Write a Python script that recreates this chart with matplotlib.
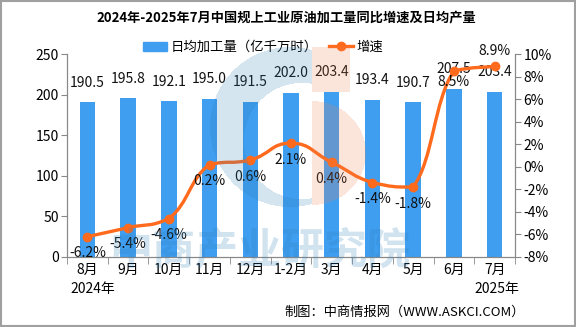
import matplotlib
matplotlib.use("Agg")
import matplotlib.pyplot as plt
import numpy as np
from matplotlib.path import Path
from matplotlib.patches import PathPatch, Rectangle
from matplotlib.lines import Line2D

plt.rcParams["font.family"] = ["Noto Sans CJK SC", "DejaVu Sans"]

# =========================
# DATA
# =========================
MONTHS = ["8月", "9月", "10月", "11月", "12月", "1-2月", "3月", "4月", "5月", "6月", "7月"]
DAILY_OUTPUT = [190.5, 195.8, 192.1, 195.0, 191.5, 202.0, 203.4, 193.4, 190.7, 207.5, 203.4]
GROWTH = [-6.2, -5.4, -4.6, 0.2, 0.6, 2.1, 0.4, -1.4, -1.8, 8.5, 8.9]

TITLE = "2024年-2025年7月中国规上工业原油加工量同比增速及日均产量"
BAR_LABEL = "日均加工量（亿千万时）"
LINE_LABEL = "增速"
SOURCE = "制图：中商情报网（WWW.ASKCI.COM）"

BAR_COLOR = "#3f9ef0"
LINE_COLOR = "#ff6a1c"
W, H = 576, 327

# =========================
# FIGURE / AXES
# =========================
fig = plt.figure(figsize=(W / 100, H / 100), dpi=100)
ax = fig.add_axes([67 / W, 1 - 257 / H, 448 / W, 203 / H])
ax2 = ax.twinx()

x = np.arange(len(MONTHS))
ax.bar(x, DAILY_OUTPUT, width=0.38, color=BAR_COLOR, zorder=2)
for xi, v in zip(x, DAILY_OUTPUT):
    ax.annotate(f"{v:.1f}", (xi, v), xytext=(0, 9), textcoords="offset points",
                ha="center", va="bottom", fontsize=10, color="#111111")

ax.set_xlim(-0.5, len(MONTHS) - 0.5)
ax.set_ylim(0, 250)
ax.set_yticks(range(0, 251, 50))
ax2.set_ylim(-8, 10)
ax2.set_yticks(range(-8, 11, 2))
ax2.set_yticklabels([f"{t}%" for t in range(-8, 11, 2)])

# smooth line through the growth points (bezier segments, controls kept inside each segment)
pts = np.column_stack([x, GROWTH]).astype(float)
t = 0.25
verts = [tuple(pts[0])]
codes = [Path.MOVETO]
n = len(pts)
for i in range(n - 1):
    p_prev = pts[max(i - 1, 0)]
    p0, p1 = pts[i], pts[i + 1]
    p_next = pts[min(i + 2, n - 1)]
    c1 = p0 + (p1 - p_prev) * t
    c2 = p1 - (p_next - p0) * t
    lo, hi = min(p0[1], p1[1]), max(p0[1], p1[1])
    c1[1] = np.clip(c1[1], lo, hi)
    c2[1] = np.clip(c2[1], lo, hi)
    verts += [tuple(c1), tuple(c2), tuple(p1)]
    codes += [Path.CURVE4] * 3
ax2.add_patch(PathPatch(Path(verts, codes), facecolor="none", edgecolor=LINE_COLOR,
                        lw=2.4, zorder=3, capstyle="round", joinstyle="round"))
ax2.plot(x, GROWTH, "o", color=LINE_COLOR, markersize=6, zorder=4)

for xi, g in zip(x, GROWTH):
    if g == max(GROWTH):
        dy, va = 6, "bottom"
    elif g == GROWTH[-2]:
        dy, va = -3, "top"
    else:
        dy, va = -7, "top"
    ax2.annotate(f"{g:.1f}%", (xi, g), xytext=(0, dy), textcoords="offset points",
                 ha="center", va=va, fontsize=10, color="#111111")

# axes styling
for a in (ax, ax2):
    a.spines["top"].set_visible(False)
    for s in ("left", "right", "bottom"):
        a.spines[s].set_color("#888888")
ax.tick_params(axis="y", direction="out", length=4, color="#888888", labelsize=10, pad=2)
ax2.tick_params(axis="y", direction="out", length=4, color="#888888", labelsize=10, pad=2)
ax.set_xticks(x)
ax.set_xticklabels(MONTHS, fontsize=10)
ax.tick_params(axis="x", length=0, pad=4)
ax.set_xticks(np.arange(-0.5, len(MONTHS)), minor=True)
ax.tick_params(axis="x", which="minor", length=5, color="#888888", direction="out")

fig.text(93 / W, 1 - 289 / H, "2024年", ha="center", va="center", fontsize=10)
fig.text(497 / W, 1 - 289 / H, "2025年", ha="center", va="center", fontsize=10)

# =========================
# TITLE / LEGEND / SOURCE
# =========================
fig.text(286 / W, 1 - 17 / H, TITLE, ha="center", va="center", fontsize=9.5, fontweight="bold")
handles = [Rectangle((0, 0), 1, 1, color=BAR_COLOR),
           Line2D([], [], color=LINE_COLOR, lw=2.4, marker="o", markersize=6)]
fig.legend(handles, [BAR_LABEL, LINE_LABEL], loc="center", bbox_to_anchor=(263 / W, 1 - 47 / H),
           ncol=2, frameon=False, fontsize=9.6, handlelength=1.8, handletextpad=0.3,
           columnspacing=0.8)
fig.text(525 / W, 1 - 312 / H, SOURCE, ha="right", va="center", fontsize=9.5)

# =========================
# WATERMARK / LOGO
# =========================
ov = fig.add_axes([0, 0, 1, 1], zorder=10)
ov.set_xlim(0, W)
ov.set_ylim(H, 0)
ov.axis("off")
ov.patch.set_alpha(0)
yy, xx = np.mgrid[0:H, 0:W] + 0.5
blue = ((xx - 290) ** 2 + (yy - 127) ** 2 < 80 ** 2) & ((xx - 302) ** 2 + (yy - 141) ** 2 > 58 ** 2) & (xx < 312)
salmon = (((xx >= 312) & (xx <= 350) & (yy >= 47) & (yy <= 92)) |
          ((xx >= 312) & (((xx - 312) / 54) ** 2 + ((yy - 153) / 52) ** 2 < 1)))
img = np.zeros((H, W, 4))
img[blue] = [0.18, 0.50, 0.71, 0.2]
img[salmon] = [0.94, 0.50, 0.31, 0.2]
ov.imshow(img, extent=(0, W, H, 0), interpolation="nearest")
ov.text(260, 250, "中商产业研究院", ha="center", va="center", fontsize=31, fontweight="bold",
        color="#2f80b5", alpha=0.22)

fig.add_artist(Rectangle((0.002, 0.003), 0.996, 0.994, transform=fig.transFigure,
                         fill=False, edgecolor="#a0a0a0", lw=1.5))

fig.savefig("out.png", dpi=100)
